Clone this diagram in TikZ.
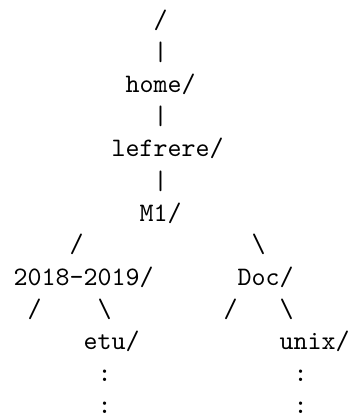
\documentclass[tikz,border=0pt]{standalone}
\usepackage{tikz}

\begin{document}
\begin{tikzpicture}[x=5.25pt, y=-12pt,
    txt/.style={font=\ttfamily\fontsize{10}{12}\selectfont, inner sep=0pt, anchor=base west}]
            \useasboundingbox (-0.9286,-0.906) rectangle (23.93,12.125);
            % trunk
            \node[txt] (root) at (10,0) {/};
            \node[txt] (barA) at (10,1) {|};
            \node[txt] (home) at (8,2) {home/};
            \node[txt] (barB) at (10,3) {|};
            \node[txt] (lefrere) at (7,4) {lefrere/};
            \node[txt] (barC) at (10,5) {|};
            \node[txt] (mun) at (9,6) {M1/};
            % first split
            \node[txt] (slashL) at (4,7) {/};
            \node[txt] (bslashR) at (17,7) {\textbackslash};
            \node[txt] (annee) at (0,8) {2018-2019/};
            \node[txt] (doc) at (16,8) {Doc/};
            % second split
            \node[txt] (slashA) at (1,9) {/};
            \node[txt] (bslashA) at (6,9) {\textbackslash};
            \node[txt] (slashB) at (15,9) {/};
            \node[txt] (bslashB) at (19,9) {\textbackslash};
            \node[txt] (etu) at (5,10) {etu/};
            \node[txt] (unix) at (19,10) {unix/};
            \foreach \r in {11,12} {
                \node[txt] (etudots\r) at (6,\r) {:};
                \node[txt] (unixdots\r) at (20,\r) {:};
            }
\end{tikzpicture}
\end{document}
